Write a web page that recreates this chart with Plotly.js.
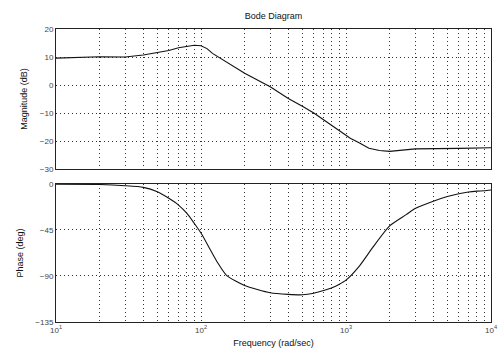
<!DOCTYPE html>
<html>
<head>
<meta charset="utf-8">
<script src="https://cdn.plot.ly/plotly-3.0.1.min.js"></script>
<style>html,body{margin:0;padding:0;background:#fff;}#chart{width:502px;height:358px;}</style>
</head>
<body>
<div id="chart"></div>
<script>
// Magnitude response
const magFreq = [10, 20, 30, 40, 50, 60, 70, 80, 90, 100, 110, 120, 150, 200, 300, 400, 500, 600, 700, 800, 900, 1000, 1070, 1240, 1440, 1700, 2000, 3000, 4000, 6000, 10000];
const magDb = [9.6, 10.1, 10.0, 10.7, 11.6, 12.3, 13.3, 13.9, 14.2, 14.0, 13.0, 11.3, 8.1, 4.2, -0.6, -4.8, -7.6, -10.0, -12.4, -14.5, -16.3, -17.8, -19.0, -20.7, -22.6, -23.4, -23.7, -22.8, -22.8, -22.6, -22.4];
// Phase response
const phaseFreq = [10, 20, 30, 40, 50, 60, 70, 80, 90, 100, 129, 150, 200, 300, 400, 500, 600, 700, 800, 900, 1000, 1240, 1530, 2000, 2600, 3000, 4000, 5000, 6000, 7000, 8000, 9000, 10000];
const phaseDeg = [-0.3, -0.5, -1.7, -3.3, -7.6, -14, -20.6, -28.8, -38.6, -48, -76, -89.3, -99.2, -106.4, -108, -108.4, -106.8, -104.2, -101.6, -98, -94, -80, -62, -41, -30, -24, -16.8, -12.2, -9.5, -7.8, -7.0, -6.6, -5.9];
// Axis ticks
const decades = [10, 100, 1000, 10000];
const decadeLabels = ["10<sup>1</sup>", "10<sup>2</sup>", "10<sup>3</sup>", "10<sup>4</sup>"];
const magTicks = [20, 10, 0, -10, -20, -30];
const phaseTicks = [0, -45, -90, -135];

const minorVals = [];
for (let d = 0; d < decades.length - 1; d++) {
  for (let k = 2; k <= 9; k++) minorVals.push(decades[d] * k);
}

const tickFont = {family: "Liberation Sans, Arial, sans-serif", size: 8, color: "#444"};
const titleFont = {family: "Liberation Sans, Arial, sans-serif", size: 9, color: "#111"};
const dotDash = "1px,3px";

const xCommon = {
  type: "log",
  range: [1, 4],
  tickmode: "array",
  tickvals: decades,
  ticktext: decadeLabels,
  showgrid: true,
  gridcolor: "#333",
  griddash: dotDash,
  gridwidth: 1,
  minor: {tickmode: "array", tickvals: minorVals, showgrid: true, gridcolor: "#333", griddash: dotDash, gridwidth: 1, ticks: ""},
  showline: true,
  linecolor: "#222",
  linewidth: 1,
  mirror: true,
  ticks: "",
  tickfont: tickFont,
  zeroline: false
};

const traces = [
  {x: magFreq, y: magDb, type: "scatter", mode: "lines", line: {color: "#111", width: 1.1}, xaxis: "x", yaxis: "y", hoverinfo: "skip"},
  {x: phaseFreq, y: phaseDeg, type: "scatter", mode: "lines", line: {color: "#111", width: 1.1, shape: "spline", smoothing: 0.6}, xaxis: "x2", yaxis: "y2", hoverinfo: "skip"}
];

const layout = {
  width: 502,
  height: 358,
  margin: {l: 56, r: 11, t: 29, b: 36},
  paper_bgcolor: "#fff",
  plot_bgcolor: "#fff",
  showlegend: false,
  title: {text: "Bode Diagram", font: {family: "Liberation Sans, Arial, sans-serif", size: 9, color: "#111"}, x: 0.545, xanchor: "center", y: 0.955, yanchor: "middle"},
  xaxis: Object.assign({}, xCommon, {domain: [0, 1], anchor: "y", showticklabels: false}),
  yaxis: {
    domain: [0.522, 1], range: [-30, 20], anchor: "x",
    tickmode: "array", tickvals: magTicks,
    showgrid: true, gridcolor: "#333", griddash: dotDash, showline: true, linecolor: "#222", mirror: true,
    ticks: "", tickfont: tickFont, zeroline: false,
    title: {text: "Magnitude (dB)", font: titleFont, standoff: 10}
  },
  xaxis2: Object.assign({}, xCommon, {domain: [0, 1], anchor: "y2",
    title: {text: "Frequency (rad/sec)", font: titleFont, standoff: 6}}),
  yaxis2: {
    domain: [0, 0.471], range: [-135, 0], anchor: "x2",
    tickmode: "array", tickvals: phaseTicks,
    showgrid: true, gridcolor: "#333", griddash: dotDash, showline: true, linecolor: "#222", mirror: true,
    ticks: "", tickfont: tickFont, zeroline: false,
    title: {text: "Phase (deg)", font: titleFont, standoff: 10}
  }
};

Plotly.newPlot("chart", traces, layout, {displayModeBar: false, staticPlot: true});
</script>
</body>
</html>
